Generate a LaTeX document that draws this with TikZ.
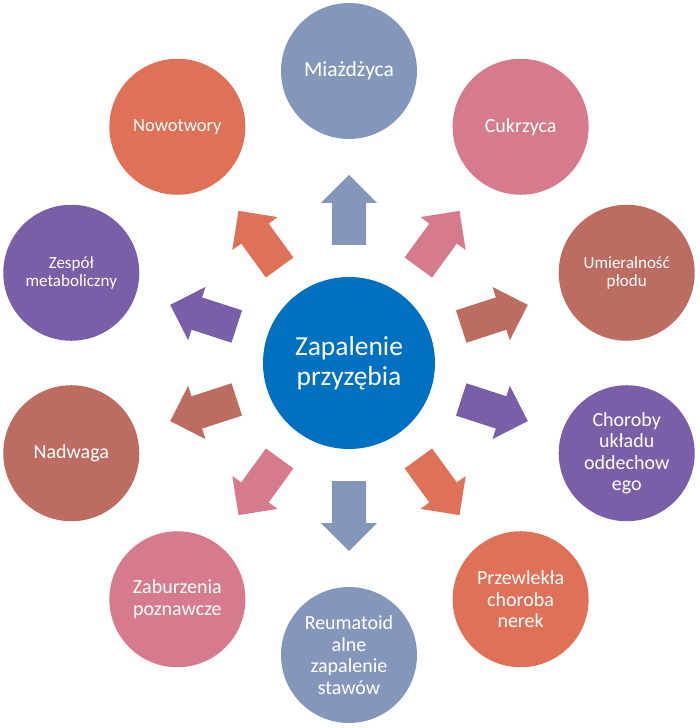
\documentclass[tikz,border=0pt]{standalone}
\usepackage{fontspec}
\setmainfont{Carlito}
\usepackage{tikz}
\definecolor{hubblue}{RGB}{0,112,192}
\definecolor{slateblue}{RGB}{132,151,186}
\definecolor{rosepink}{RGB}{214,123,142}
\definecolor{brickred}{RGB}{188,108,96}
\definecolor{plumpurple}{RGB}{123,94,168}
\definecolor{coralred}{RGB}{223,113,88}

\begin{document}
\begin{tikzpicture}[x=1pt,y=1pt,
  bubble/.style={circle,minimum size=136pt,inner sep=0pt,text=white,align=center,
    font=\fontsize{20}{21.5}\selectfont},
  smalltext/.style={font=\fontsize{17}{18.5}\selectfont}]
\useasboundingbox (-349,-365) rectangle (351,363);
\node[circle,fill=hubblue,minimum size=172pt,inner sep=0pt,text=white,align=center,
  font=\fontsize{27.5}{30}\selectfont] (hub) at (0,0) {Zapalenie\\przyzębia};

% outer ring, 36 degrees apart
\node[bubble,fill=slateblue,font=\fontsize{21.5}{23}\selectfont] (athero) at (90:292) {Miażdżyca};
\node[bubble,fill=rosepink] (diab) at (54:292) {Cukrzyca};
\node[bubble,smalltext,fill=brickred] (fetal) at (18:292) {Umieralność\\płodu};
\node[bubble,fill=plumpurple] (resp) at (-18:292) {Choroby\\układu\\oddechow\\ego};
\node[bubble,fill=coralred] (kidney) at (-54:292) {Przewlekła\\choroba\\nerek};
\node[bubble,fill=slateblue] (ra) at (-90:292) {Reumatoid\\alne\\zapalenie\\stawów};
\node[bubble,fill=rosepink] (cogn) at (-126:292) {Zaburzenia\\poznawcze};
\node[bubble,fill=brickred] (overw) at (-162:292) {Nadwaga};
\node[bubble,smalltext,fill=plumpurple] (metab) at (162:292) {Zespół\\metaboliczny};
\node[bubble,fill=coralred,font=\fontsize{18.5}{20}\selectfont] (cancer) at (126:292) {Nowotwory};

% block arrows from the hub
\foreach \ang/\col in {90/slateblue,54/rosepink,18/brickred,-18/plumpurple,-54/coralred,
    -90/slateblue,-126/rosepink,-162/brickred,162/plumpurple,126/coralred}
  \fill[\col,shift={(hub.center)},rotate=\ang]
    (118,-17) -- (160,-17) -- (160,-28) -- (188,0) -- (160,28) -- (160,17) -- (118,17) -- cycle;
\end{tikzpicture}
\end{document}
